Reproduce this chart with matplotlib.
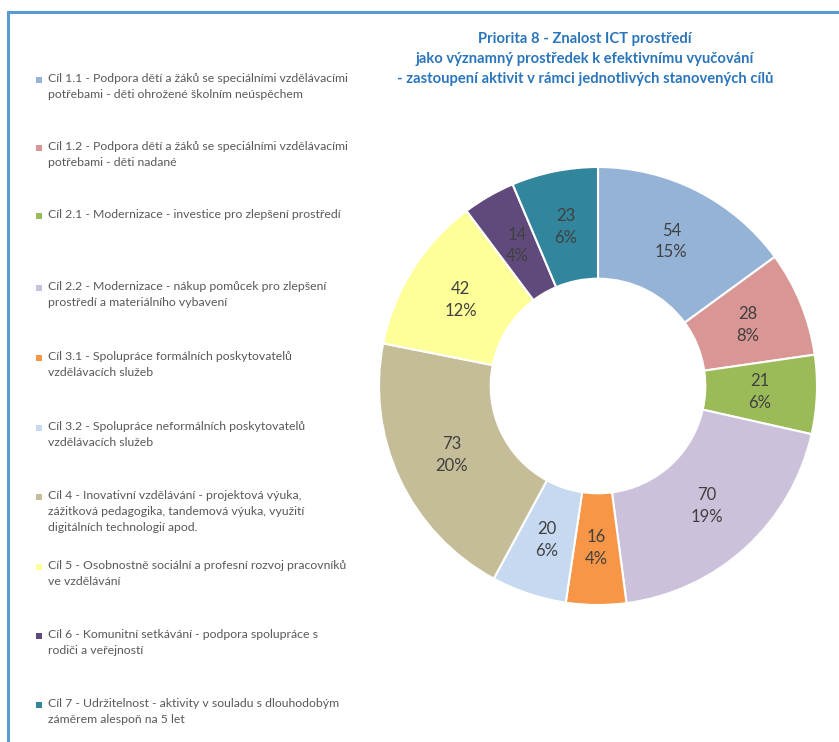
import matplotlib.pyplot as plt
from matplotlib.patches import Rectangle
import numpy as np

# Data
labels = [
    'Cíl 1.1 - Podpora dětí a žáků se speciálními vzdělávacími\npotřebami - děti ohrožené školním neúspěchem',
    'Cíl 1.2 - Podpora dětí a žáků se speciálními vzdělávacími\npotřebami - děti nadané',
    'Cíl 2.1 - Modernizace - investice pro zlepšení prostředí',
    'Cíl 2.2 - Modernizace - nákup pomůcek pro zlepšení\nprostředí a materiálního vybavení',
    'Cíl 3.1 - Spolupráce formálních poskytovatelů\nvzdělávacích služeb',
    'Cíl 3.2 - Spolupráce neformálních poskytovatelů\nvzdělávacích služeb',
    'Cíl 4 - Inovativní vzdělávání - projektová výuka,\nzážitková pedagogika, tandemová výuka, využití\ndigitálních technologií apod.',
    'Cíl 5 - Osobnostně sociální a profesní rozvoj pracovníků\nve vzdělávání',
    'Cíl 6 - Komunitní setkávání - podpora spolupráce s\nrodiči a veřejností',
    'Cíl 7 - Udržitelnost - aktivity v souladu s dlouhodobým\nzáměrem alespoň na 5 let',
]
values = [54, 28, 21, 70, 16, 20, 73, 42, 14, 23]
colors = ['#95B3D7', '#D99694', '#9BBB59', '#CCC1DA', '#F79646',
          '#C6D9F1', '#C4BD97', '#FFFF99', '#604A7B', '#31859C']
legend_y = [80, 148, 216, 288, 358, 428, 497, 567, 636, 705]  # pixel rows of first lines

title = ('Priorita 8 - Znalost ICT prostředí\n'
         'jako významný prostředek k efektivnímu vyučování\n'
         '- zastoupení aktivit v rámci jednotlivých stanovených cílů')

W, H = 839, 742
fig = plt.figure(figsize=(W / 100, H / 100), dpi=100)
plt.rcParams['font.family'] = ['Lato', 'DejaVu Sans']

# blue frame (cropped on the right and bottom)
fig.add_artist(Rectangle((8 / W, -0.1), 1.2, 1 - 12 / H + 0.1, transform=fig.transFigure,
                         fill=False, edgecolor='#5B9BD5', linewidth=2.2))

# donut
cx, cy, r = 598, 386, 219
ax = fig.add_axes([(cx - r) / W, 1 - (cy + r) / H, 2 * r / W, 2 * r / H])
total = sum(values)
wedges, _ = ax.pie(values, colors=colors, startangle=90, counterclock=False,
                   radius=1, wedgeprops=dict(width=0.51, edgecolor='white', linewidth=1.5))
ax.set_xlim(-1, 1)
ax.set_ylim(-1, 1)
ax.set_aspect('equal')
ax.axis('off')

for w, v in zip(wedges, values):
    ang = np.deg2rad((w.theta1 + w.theta2) / 2)
    x, y = 0.74 * np.cos(ang), 0.74 * np.sin(ang)
    ax.text(x, y, f'{v}\n{round(v / total * 100)}%', ha='center', va='center',
            fontsize=12, color='#404040', linespacing=1.45)

# title
fig.text(585 / W, 1 - 59 / H, title, ha='center', va='center', fontsize=10.6,
         fontweight='bold', color='#2A75BB', linespacing=1.5)

# legend
for lab, col, py in zip(labels, colors, legend_y):
    fig.add_artist(Rectangle((36 / W, 1 - (py + 3) / H), 6 / W, 6 / H,
                             transform=fig.transFigure, facecolor=col, edgecolor='none'))
    fig.text(48 / W, 1 - (py - 7) / H, lab, ha='left', va='top', fontsize=8.8,
             color='#595959', linespacing=1.55)

fig.savefig('out.png', dpi=100, facecolor='white')
